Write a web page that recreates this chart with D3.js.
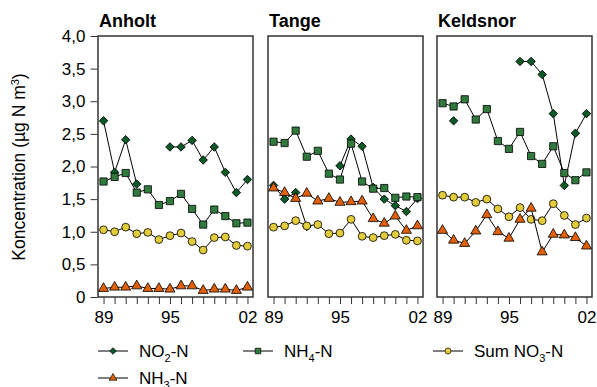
<!DOCTYPE html>
<html>
<meta charset="utf-8">
<head>
<style>
body { margin: 0; background: #fff; }
text { font-family: "Liberation Sans", Arial, sans-serif; fill: #000; }
.tick text { font-size: 17px; }
.title { font-size: 18px; font-weight: bold; }
.legend text { font-size: 17px; }
.frame { fill: none; stroke: #333; stroke-width: 1.5px; }
.line { fill: none; stroke: #000; stroke-width: 1px; }
</style>
</head>
<body>
<script src="https://cdnjs.cloudflare.com/ajax/libs/d3/7.8.5/d3.min.js"></script>
<script>

// years on the x axis, and which ones get a label
var years = [1989,1990,1991,1992,1993,1994,1995,1996,1997,1998,1999,2000,2001,2002];
var yearLabels = [[1989, "89"], [1995, "95"], [2002, "02"]];
var yTicks = [0, 0.5, 1, 1.5, 2, 2.5, 3, 3.5, 4];

var stations = ["Anholt", "Tange", "Keldsnor"];

var anholtNO2 = [2.70,1.91,2.41,1.73,null,null,2.30,2.30,2.40,2.10,2.30,1.91,1.60,1.80];
var anholtNH4 = [1.77,1.84,1.90,1.60,1.65,1.41,1.47,1.58,1.35,1.11,1.34,1.24,1.13,1.14];
var anholtNO3 = [1.03,1.00,1.07,0.97,0.99,0.88,0.94,0.98,0.85,0.72,0.91,0.92,0.79,0.78];
var anholtNH3 = [0.13,0.15,0.15,0.17,0.13,0.13,0.12,0.17,0.17,0.10,0.12,0.12,0.10,0.15];

var tangeNO2 = [1.71,1.50,1.60,1.08,null,null,2.01,2.42,2.31,1.68,1.50,1.40,1.31,1.51];
var tangeNH4 = [2.38,2.36,2.55,2.15,2.24,1.89,1.80,2.35,1.77,1.66,1.67,1.52,1.54,1.53];
var tangeNO3 = [1.07,1.09,1.17,1.09,1.11,0.97,0.98,1.19,0.93,0.91,0.94,0.96,0.87,0.86];
var tangeNH3 = [1.67,1.60,1.51,1.59,1.47,1.51,1.45,1.46,1.47,1.20,1.13,1.24,1.02,1.09];

var keldsnorNO2 = [null,2.70,null,null,null,null,null,3.61,3.61,3.41,2.81,1.71,2.51,2.81];
var keldsnorNH4 = [2.97,2.92,3.03,2.72,2.88,2.39,2.27,2.53,2.16,2.04,2.31,1.90,1.79,1.91];
var keldsnorNO3 = [1.56,1.53,1.53,1.45,1.50,1.35,1.23,1.37,1.19,1.17,1.43,1.25,1.11,1.21];
var keldsnorNH3 = [1.02,0.87,0.82,1.01,1.26,1.00,0.90,1.19,1.36,0.69,0.96,0.95,0.91,0.78];

var panelData = [
  [anholtNO2, anholtNH4, anholtNO3, anholtNH3],
  [tangeNO2, tangeNH4, tangeNO3, tangeNH3],
  [keldsnorNO2, keldsnorNH4, keldsnorNO3, keldsnorNH3]
];

// series: marker shape, fill and legend text (sub = subscript digit)
// diamond = square turned 45 degrees
var series = [
  {sym: d3.symbolSquare, rot: 45, size: 36, fill: "#0b5a26", pre: "NO", sub: "2", post: "-N"},
  {sym: d3.symbolSquare, rot: 0, size: 52, fill: "#2f7a3c", pre: "NH", sub: "4", post: "-N"},
  {sym: d3.symbolCircle, rot: 0, size: 48, fill: "#e2cc3c", pre: "Sum NO", sub: "3", post: "-N"},
  {sym: d3.symbolTriangle, rot: 0, size: 44, fill: "#e0600c", pre: "NH", sub: "3", post: "-N"}
];

var W = 597, H = 387;
var panelW = 155, plotTop = 36, plotBottom = 297;
var panelLeft = [98, 268, 437];

var svg = d3.select("body").append("svg")
    .attr("width", W)
    .attr("height", H);

var x = d3.scaleLinear().domain([1988.5, 2002.5]).range([0, panelW]);
var y = d3.scaleLinear().domain([0, 4]).range([plotBottom, plotTop]);

var fmt = function(d) { return d == 0 ? "0" : d3.format(".1f")(d).replace(".", ","); };

// y axis only on the first panel
var yAxis = svg.append("g")
    .attr("transform", "translate(" + (panelLeft[0] - 0.5) + ",0)")
    .call(d3.axisLeft(y).tickValues(yTicks).tickFormat(fmt).tickSize(7).tickPadding(5));
yAxis.select(".domain").remove();
yAxis.selectAll(".tick line").attr("stroke", "#333");

svg.append("text")
    .attr("transform", "translate(25,167) rotate(-90)")
    .attr("text-anchor", "middle")
    .style("font-size", "17.5px")
    .html('Koncentration (µg N m<tspan dy="-6" font-size="11px">3</tspan><tspan dy="6">)</tspan>');

stations.forEach(function(name, p) {
  var g = svg.append("g")
      .attr("transform", "translate(" + panelLeft[p] + ",0)");

  g.append("text")
    .attr("class", "title")
    .attr("x", 1)
    .attr("y", 27)
    .text(name);

  var xAxis = g.append("g")
      .attr("transform", "translate(0," + plotBottom + ")")
      .call(d3.axisBottom(x).tickValues(years).tickSize(7).tickPadding(7)
        .tickFormat(function(d) {
          var l = yearLabels.find(function(e) { return e[0] == d; });
          return l ? l[1] : "";
        }));
  xAxis.select(".domain").remove();
  xAxis.selectAll(".tick line").attr("stroke", "#333");

  g.append("rect")
    .attr("class", "frame")
    .attr("x", 0)
    .attr("y", plotTop)
    .attr("width", panelW)
    .attr("height", plotBottom - plotTop);

  panelData[p].forEach(function(vals, s) {
    var pts = years.map(function(yr, i) { return {yr: yr, v: vals[i]}; });
    var line = d3.line()
      .defined(function(d) { return d.v != null; })
      .x(function(d) { return x(d.yr); })
      .y(function(d) { return y(d.v); });

    g.append("path")
      .attr("class", "line")
      .attr("d", line(pts));

    g.selectAll(".m" + s)
      .data(pts.filter(function(d) { return d.v != null; }))
      .enter().append("path")
      .attr("class", "m" + s)
      .attr("transform", function(d) {
        return "translate(" + x(d.yr) + "," + y(d.v) + ") rotate(" + series[s].rot + ")";
      })
      .attr("d", d3.symbol().type(series[s].sym).size(series[s].size))
      .attr("fill", series[s].fill)
      .attr("stroke", "#000")
      .attr("stroke-width", 0.8);
  });
});

// legend
var legendPos = [[98, 351], [243, 351], [433, 351], [98, 378]];
var legend = svg.append("g").attr("class", "legend");
series.forEach(function(s, i) {
  var lg = legend.append("g")
      .attr("transform", "translate(" + legendPos[i][0] + "," + legendPos[i][1] + ")");
  lg.append("line")
    .attr("x1", 0).attr("x2", 30)
    .attr("stroke", "#000");
  lg.append("path")
    .attr("transform", "translate(15,0) rotate(" + s.rot + ")")
    .attr("d", d3.symbol().type(s.sym).size(s.size * 0.6))
    .attr("fill", s.fill)
    .attr("stroke", "#000")
    .attr("stroke-width", 0.7);
  lg.append("text")
    .attr("x", 41)
    .attr("y", 6)
    .html(s.pre + '<tspan dy="5" font-size="11px">' + s.sub + '</tspan><tspan dy="-5">' + s.post + '</tspan>');
});

</script>
</body>
</html>
